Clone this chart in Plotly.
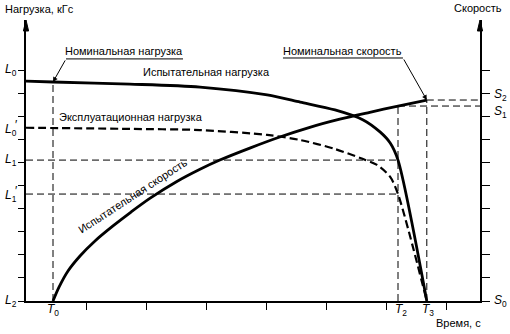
import plotly.graph_objects as go

FONT = "Liberation Sans, Arial, sans-serif"

# Key moments on the time axis (axis units)
T0, T2, T3 = 0.45, 6.2, 6.68
# Load levels (left axis units)
L0, L0p, L1, L1p, L2 = 10.0, 7.5, 6.1, 4.63, 0.0
# Speed levels (right axis units)
S0, S1, S2 = 0.0, 8.44, 8.70

# Test load curve (solid)
t_test_load = [0.0, T0, 1.73, 2.9, 4.02, 4.57, 5.15, 5.62, 5.9, 6.07, T2, T3]
test_load = [9.52, 9.48, 9.39, 9.26, 8.92, 8.61, 8.27, 7.84, 7.32, 6.84, L1, L2]

# Operational load curve (dashed)
t_oper_load = [0.0, 1.73, 2.9, 4.02, 4.57, 5.15, 5.57, 5.85, 6.07, T2, T3]
oper_load = [L0p, 7.45, 7.4, 7.19, 6.97, 6.58, 6.19, 5.89, 5.37, L1p, L2]

# Test speed curve (solid, right axis)
t_test_speed = [T0, 0.55, 0.7, 0.9, 1.15, 1.45, 1.75, 2.07, 2.5, 2.9,
                3.23, 3.73, 4.23, 4.73, 5.23, 5.73, T2, T3]
test_speed = [S0, 0.6, 1.3, 1.95, 2.6, 3.25, 3.85, 4.45, 5.15, 5.7,
              6.1, 6.62, 7.1, 7.52, 7.87, 8.17, S1, S2]

x_ticks = [1, 2, 3, 4, 5, 6, 7]
y_ticks = [0, 1, 2, 3, 4, 5, 6, 7, 8, 9, 10]

X_MAX = 454 / 60
Y_MAX = 281 / 23.1

fig = go.Figure()

fig.add_trace(go.Scatter(x=t_test_load, y=test_load, mode="lines",
                         line=dict(color="black", width=2.8, shape="spline", smoothing=0.8),
                         hoverinfo="skip"))
fig.add_trace(go.Scatter(x=t_oper_load, y=oper_load, mode="lines",
                         line=dict(color="black", width=2.2, dash="8px,4px", shape="spline", smoothing=0.8),
                         hoverinfo="skip"))
fig.add_trace(go.Scatter(x=t_test_speed, y=test_speed, mode="lines", yaxis="y2",
                         line=dict(color="black", width=2.8, shape="spline", smoothing=0.9),
                         hoverinfo="skip"))

guide = dict(color="black", width=1, dash="7px,4px")
# vertical guides at T0, T2, T3
fig.add_shape(type="line", x0=T0, x1=T0, y0=L2, y1=test_load[1], line=guide)
fig.add_shape(type="line", x0=T2, x1=T2, y0=L2, y1=S1, line=guide)
fig.add_shape(type="line", x0=T3, x1=T3, y0=L2, y1=S2, line=guide)
# horizontal guides for L1, L1', S1, S2
fig.add_shape(type="line", x0=0, x1=T2, y0=L1, y1=L1, line=guide)
fig.add_shape(type="line", x0=0, x1=T2, y0=L1p, y1=L1p, line=guide)
fig.add_shape(type="line", x0=T2, x1=X_MAX, y0=S1, y1=S1, line=guide)
fig.add_shape(type="line", x0=T3, x1=X_MAX, y0=S2, y1=S2, line=guide)

# arrowheads on top of both vertical axes (paper coordinates)
hw, hh = 2.6 / 454, 11 / 281
for xa in (0, 1):
    fig.add_shape(type="path", xref="paper", yref="paper",
                  path=f"M {xa-hw},{1-hh} L {xa},{1.0} L {xa+hw},{1-hh} Z",
                  fillcolor="black", line=dict(color="black", width=1))


def label(text, x, y, size=11, xanchor="center", yanchor="middle", **kw):
    """Place text at axis-unit coordinates, via paper refs so it may sit outside the plot."""
    fig.add_annotation(text=text, x=x / X_MAX, y=y / Y_MAX, xref="paper", yref="paper",
                       xanchor=xanchor, yanchor=yanchor, showarrow=False,
                       font=dict(family=FONT, size=size, color="black"), **kw)


# callouts with underline and leader arrow
fig.add_shape(type="line", x0=0.667, x1=2.617, y0=10.48, y1=10.48,
              line=dict(color="black", width=1))
label("Номинальная нагрузка", 1.64, 10.82)
fig.add_annotation(x=T0, y=test_load[1], ax=0.667, ay=10.48, axref="x", ayref="y",
                   xref="x", yref="y", text="", showarrow=True, arrowhead=2,
                   arrowsize=1, arrowwidth=1, arrowcolor="black", standoff=0)

fig.add_shape(type="line", x0=4.283, x1=6.283, y0=10.52, y1=10.52,
              line=dict(color="black", width=1))
label("Номинальная скорость", 5.28, 10.82)
fig.add_annotation(x=T3, y=S2, ax=6.283, ay=10.52, axref="x", ayref="y",
                   xref="x", yref="y", text="", showarrow=True, arrowhead=2,
                   arrowsize=1, arrowwidth=1, arrowcolor="black", standoff=0)

label("Испытательная нагрузка", 3.01, 9.9)
label("Эксплуатационная нагрузка", 1.75, 7.97)
label("Испытательная скорость", 1.77, 4.55, textangle=-33)

# axis titles
label("Нагрузка, кГс", 0.233, 12.62)
label("Скорость", 7.533, 12.68)
label("Время, с", 7.2, -0.95)

# load tick labels
LX = -0.12
label("<i>L</i><sub>0</sub>", LX, L0, size=12, xanchor="right")
label("<i>L</i><sub>0</sub>", LX, L0p - 0.1, size=12, xanchor="right")
label("′", LX + 0.02, L0p + 0.12, size=12, xanchor="right")
label("<i>L</i><sub>1</sub>", LX, L1, size=12, xanchor="right")
label("<i>L</i><sub>1</sub>", LX, L1p - 0.1, size=12, xanchor="right")
label("′", LX + 0.02, L1p + 0.12, size=12, xanchor="right")
label("<i>L</i><sub>2</sub>", LX, L2, size=12, xanchor="right")

# time tick labels
label("<i>T</i><sub>0</sub>", T0, -0.4, size=12)
label("<i>T</i><sub>2</sub>", T2 + 0.05, -0.4, size=12)
label("<i>T</i><sub>3</sub>", T3 + 0.02, -0.4, size=12)

# speed tick labels
SX = X_MAX + 0.2
label("<i>S</i><sub>2</sub>", SX, S2 + 0.2, size=12, xanchor="left")
label("<i>S</i><sub>1</sub>", SX, S1 - 0.24, size=12, xanchor="left")
label("<i>S</i><sub>0</sub>", SX, S0, size=12, xanchor="left")

axis_common = dict(showgrid=False, zeroline=False, showticklabels=False,
                   showline=True, linecolor="black", linewidth=1.6,
                   ticks="outside", tickcolor="black", tickwidth=1.2)

fig.update_layout(
    width=510, height=334,
    margin=dict(l=26, r=30, t=20, b=33),
    paper_bgcolor="white", plot_bgcolor="white",
    showlegend=False,
    xaxis=dict(range=[0, X_MAX], tickvals=x_ticks, ticklen=7, **axis_common),
    yaxis=dict(range=[0, Y_MAX], tickvals=y_ticks, ticklen=6, **axis_common),
    yaxis2=dict(range=[0, Y_MAX], tickvals=y_ticks, ticklen=8, overlaying="y",
                side="right", **axis_common),
)

fig.write_html("out.html")
